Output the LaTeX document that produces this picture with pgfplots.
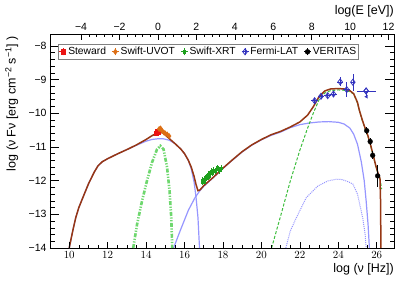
\documentclass[border=0pt]{standalone}
\usepackage{pgfplots}
\pgfplotsset{compat=1.18}
\usepackage{fontspec}
\setmainfont{Liberation Sans}
\definecolor{brownc}{RGB}{150,55,20}
\definecolor{lblue}{RGB}{150,150,255}
\definecolor{hostg}{RGB}{110,215,110}
\definecolor{ecg}{RGB}{60,190,60}
\definecolor{xrtg}{RGB}{30,160,30}
\definecolor{fermib}{RGB}{50,50,190}
\definecolor{stewr}{RGB}{235,20,20}
\definecolor{uvoto}{RGB}{220,110,20}
\pgfplotsset{
  errcross/.style={error bars/.cd, x dir=both, x explicit, y dir=both, y explicit, error mark=none,
    error bar style={line width=0.6bp}},
  legend image code/.code={%
    \draw[#1,mark=none,solid,line width=0.6bp] (-3.5bp,0)--(3.5bp,0) (0,-3.5bp)--(0,3.5bp);
    \draw[#1,only marks] plot coordinates {(0bp,0bp)};}
}
\begin{document}
\begin{tikzpicture}[font=\fontsize{10.5bp}{12bp}\selectfont]
\begin{axis}[name=main, scale only axis, width=344bp, height=214bp,
  xmin=9, xmax=26.9, ymin=-14, ymax=-7.65,
  xtick=\empty,
  ytick={-14,-13,...,-8}, yticklabels={−14,−13,−12,−11,−10,−9,−8},
  minor y tick num=4, ytick pos=both, yticklabel pos=left,
  tick align=inside, major tick length=9bp, minor tick length=4.5bp,
  tick style={black, line width=0.5bp},
  axis line style={black, line width=0.8bp},
  legend style={at={(rel axis cs:0.023,0.953)}, anchor=north west, draw=gray, line width=0.5bp,
    font=\fontsize{10.3bp}{12bp}\selectfont, inner xsep=1bp, inner ysep=1bp,
    nodes={inner xsep=1.5bp, inner ysep=2bp}},
  legend columns=5,
  legend cell align=left,
  /tikz/every even column/.append style={column sep=4bp},
]
% synchrotron
\addplot[lblue, line width=1.2bp, forget plot] table {
10.0 -14.0
10.1 -13.72
10.2 -13.45
10.34 -13.1
10.5 -12.8
10.77 -12.42
11.0 -12.1
11.3 -11.75
11.5 -11.56
11.72 -11.44
12.0 -11.35
12.5 -11.21
13.0 -11.08
13.5 -10.95
14.0 -10.83
14.3 -10.78
14.6 -10.76
14.9 -10.76
15.2 -10.8
15.5 -10.9
15.8 -11.06
16.0 -11.2
16.2 -11.4
16.35 -11.65
16.5 -12.05
16.6 -12.5
16.7 -13.1
16.78 -14.0
};
% SSC
\addplot[lblue, line width=1.2bp, forget plot] table {
15.43 -14.0
15.8 -13.45
16.2 -12.88
16.55 -12.5
16.7 -12.38
16.8 -12.3
17.0 -12.17
17.5 -11.91
18.0 -11.64
18.5 -11.39
19.0 -11.15
19.5 -10.95
20.0 -10.79
20.5 -10.66
21.0 -10.56
21.5 -10.43
22.0 -10.34
22.5 -10.29
23.0 -10.26
23.5 -10.25
24.0 -10.27
24.3 -10.32
24.6 -10.44
24.8 -10.62
25.0 -10.92
25.2 -11.45
25.35 -12.0
25.45 -12.6
25.55 -13.3
25.62 -14.0
};
% second order SSC
\addplot[lblue, line width=1bp, dash pattern=on 1bp off 1bp, forget plot] table {
21.27 -14.0
21.5 -13.5
21.82 -13.1
22.34 -12.5
22.94 -12.16
23.46 -12.01
23.9 -11.96
24.2 -11.97
24.5 -12.03
24.76 -12.1
25.0 -12.4
25.27 -13.1
25.4 -13.6
25.45 -14.0
};
% host / thermal
\addplot[hostg, line width=2.6bp, dash pattern=on 4bp off 1.5bp on 1.2bp off 1.5bp on 1.2bp off 1.5bp, forget plot] table {
13.33 -14.0
13.53 -13.3
13.79 -12.6
14.05 -12.0
14.31 -11.46
14.57 -11.07
14.74 -10.97
14.91 -11.07
15.09 -11.6
15.22 -12.3
15.31 -13.1
15.36 -14.0
};
% EC
\addplot[ecg, line width=1bp, dash pattern=on 3bp off 1.8bp, forget plot] table {
20.53 -14.0
21.0 -13.05
21.5 -12.02
22.0 -11.1
22.4 -10.45
22.7 -10.0
23.0 -9.6
23.3 -9.4
23.6 -9.33
24.0 -9.31
24.3 -9.32
24.6 -9.36
24.8 -9.43
25.0 -9.7
25.1 -9.93
25.25 -10.22
25.4 -10.47
25.55 -10.7
25.7 -11.0
25.82 -11.27
25.95 -11.57
26.08 -11.82
26.17 -11.95
26.26 -12.25
};
% total
\addplot[brownc, line width=1.5bp, forget plot] table {
10.0 -14.0
10.1 -13.72
10.2 -13.45
10.34 -13.1
10.5 -12.8
10.77 -12.42
11.0 -12.1
11.3 -11.75
11.5 -11.56
11.72 -11.44
12.0 -11.35
12.5 -11.21
13.0 -11.08
13.5 -10.94
14.0 -10.78
14.3 -10.67
14.5 -10.61
14.7 -10.56
14.9 -10.59
15.1 -10.7
15.3 -10.8
15.5 -10.9
15.8 -11.06
16.0 -11.2
16.2 -11.4
16.35 -11.6
16.5 -11.88
16.6 -12.12
16.7 -12.3
16.8 -12.28
17.0 -12.15
17.5 -11.9
18.0 -11.63
18.5 -11.38
19.0 -11.14
19.5 -10.94
20.0 -10.78
20.5 -10.64
21.0 -10.54
21.5 -10.41
22.0 -10.26
22.4 -10.06
22.7 -9.81
23.0 -9.51
23.3 -9.34
23.6 -9.28
24.0 -9.27
24.3 -9.28
24.6 -9.33
24.8 -9.42
25.0 -9.68
25.1 -9.92
25.25 -10.2
25.4 -10.45
25.55 -10.68
25.7 -10.98
25.82 -11.25
25.95 -11.55
26.08 -11.8
26.17 -11.93
26.2 -12.6
26.22 -14.0
};
% data
\addplot[stewr, only marks, mark=square*, mark size=2.2bp, errcross] table[x=x,y=y,x error=ex,y error=ey] {
x y ex ey
14.52 -10.60 0.03 0.05
14.60 -10.55 0.03 0.05
};
\addlegendentry{Steward}
\addplot[uvoto, only marks, mark=diamond*, mark size=2.6bp, errcross] table[x=x,y=y,x error=ex,y error=ey] {
x y ex ey
14.68 -10.47 0.03 0.06
14.75 -10.45 0.03 0.06
14.83 -10.52 0.03 0.06
14.92 -10.57 0.03 0.06
15.00 -10.60 0.03 0.06
15.10 -10.63 0.03 0.06
15.20 -10.68 0.03 0.06
};
\addlegendentry{Swift-UVOT}
\addplot[xrtg, only marks, mark=square*, mark size=1.1bp, errcross] table[x=x,y=y,x error=ex,y error=ey] {
x y ex ey
16.90 -12.05 0.04 0.08
16.95 -11.98 0.04 0.08
17.00 -12.03 0.04 0.08
17.05 -11.95 0.04 0.08
17.10 -11.90 0.04 0.08
17.15 -11.94 0.04 0.08
17.20 -11.85 0.04 0.08
17.25 -11.80 0.04 0.08
17.30 -11.87 0.04 0.08
17.35 -11.76 0.04 0.08
17.40 -11.72 0.04 0.08
17.45 -11.79 0.04 0.08
17.50 -11.68 0.04 0.08
17.60 -11.72 0.05 0.09
17.70 -11.62 0.05 0.09
17.80 -11.70 0.05 0.09
17.92 -11.64 0.06 0.10
};
\addlegendentry{Swift-XRT}
\addplot[fermib, only marks, mark=diamond, mark size=3bp, mark options={line width=0.8bp, fill=white}, errcross] table[x=x,y=y,x error=ex,y error=ey] {
x y ex ey
22.77 -9.63 0.17 0.07
23.10 -9.50 0.17 0.07
23.45 -9.48 0.17 0.07
23.75 -9.43 0.17 0.08
24.10 -9.07 0.17 0.13
24.44 -9.30 0.17 0.22
24.76 -9.08 0.12 0.25
};
\addlegendentry{Fermi-LAT}
\addplot[fermib, only marks, mark=diamond, mark size=3bp, mark options={line width=0.8bp, fill=white}, forget plot,
  error bars/.cd, x dir=both, x explicit, error mark=none, error bar style={line width=0.6bp}] table[x=x,y=y,x error=ex] {
x y ex
25.45 -9.34 0.50
};
\addplot[fermib, only marks, mark=diamond, mark size=3bp, mark options={line width=0.8bp, fill=white}, forget plot,
  error bars/.cd, y dir=minus, y explicit, error mark=triangle*, error mark options={rotate=180, mark size=1.8bp, fill=fermib}, error bar style={line width=0.6bp}] table[x=x,y=y,y error=ey] {
x y ey
25.45 -9.34 0.17
};
\addplot[black, only marks, mark=*, mark size=2.4bp, errcross] table[x=x,y=y,x error=ex,y error=ey] {
x y ex ey
25.48 -10.52 0.03 0.10
25.66 -10.84 0.03 0.10
25.79 -11.25 0.03 0.12
26.05 -11.86 0.10 0.32
};
\addlegendentry{VERITAS}
\end{axis}
% bottom x axis ticks
\begin{axis}[scale only axis, width=344bp, height=214bp,
  xmin=9, xmax=26.9, ymin=-14, ymax=-7.65,
  axis line style={draw=none}, ytick=\empty,
  xtick={10,12,...,26}, minor x tick num=3, xtick pos=bottom, xticklabel pos=bottom,
  tick align=inside, major tick length=6bp, minor tick length=3bp,
  tick style={black, line width=0.5bp},
]
\end{axis}
% top x axis ticks
\begin{axis}[scale only axis, width=344bp, height=214bp,
  xmin=-5.617, xmax=12.283, ymin=0, ymax=1,
  axis line style={draw=none}, ytick=\empty,
  xtick={-4,-2,...,12}, xticklabels={−4,−2,0,2,4,6,8,10,12},
  minor x tick num=4, xtick pos=top, xticklabel pos=top,
  tick align=inside, major tick length=6bp, minor tick length=3bp,
  tick style={black, line width=0.5bp},
]
\end{axis}
\node[anchor=north east, inner sep=0pt, font=\fontsize{12.5bp}{14bp}\selectfont] at ([yshift=-15bp]main.south east) {log (ν [Hz])};
\node[anchor=south east, inner sep=0pt, font=\fontsize{12.5bp}{14bp}\selectfont] at ([yshift=17bp]main.north east) {log(E [eV])};
\node[rotate=90, anchor=north east, inner sep=0pt, font=\fontsize{12.5bp}{14bp}\selectfont] at ([xshift=-45bp,yshift=-2bp]main.north west) {log (ν Fν [erg cm\textsuperscript{−2} s\textsuperscript{−1}] )};
\path ([xshift=-50bp,yshift=-34bp]main.south west) rectangle ([xshift=21bp,yshift=34bp]main.north east);
\end{tikzpicture}
\end{document}
